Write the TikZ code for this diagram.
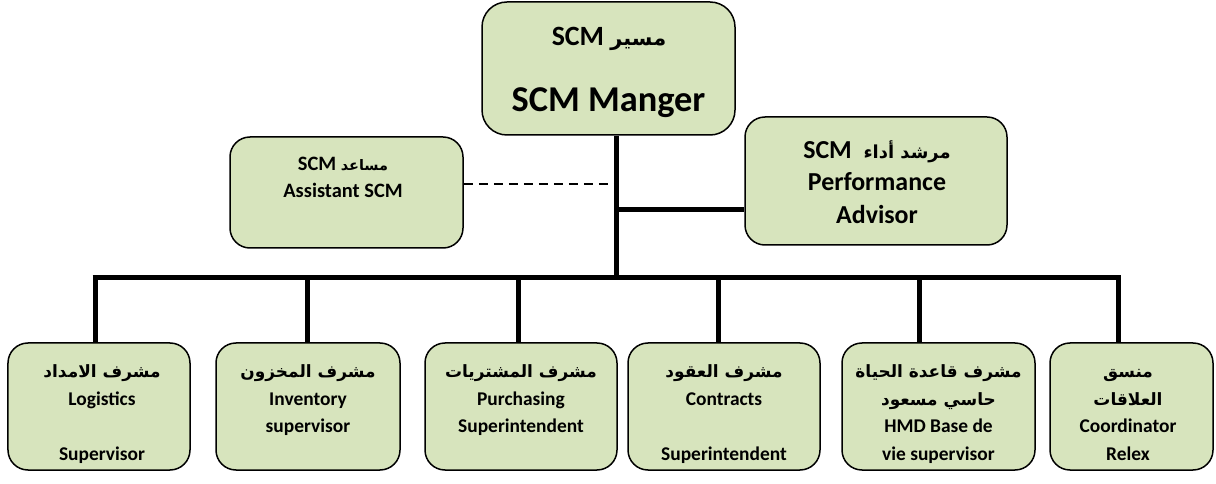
\documentclass[tikz,border=0pt]{standalone}
\usepackage{fontspec}
\setmainfont{Carlito}
\newfontfamily\arabicfont[Script=Arabic]{DejaVu Sans}
\TeXXeTstate=1
% Arabic words at a given size (direction is set around each line)
\newcommand\arw[2]{{\arabicfont\fontsize{#1}{#1}\selectfont #2}}
\definecolor{cardgreen}{HTML}{D7E4BD}

\begin{document}
\begin{tikzpicture}[x=1bp,y=-1bp,
  card/.style={draw=black, line width=1.5bp, fill=cardgreen,
    rounded corners=20bp, inner sep=0pt},
  cardtext/.style={inner sep=0pt, align=center, anchor=north},
  bottomtext/.style={cardtext, font=\bfseries\fontsize{19.5}{28}\selectfont},
  link/.style={line width=5bp},
  dottedlink/.style={line width=2.2bp, dash pattern=on 9bp off 6bp}]

\useasboundingbox (0,0) rectangle (1216,484);

% ---- boxes ----
\node[card, minimum width=253bp, minimum height=133bp, rounded corners=25bp] (mgr) at (608.5,68.5) {};
\node[card, minimum width=233bp, minimum height=111bp] (asst) at (346.5,192.5) {};
\node[card, minimum width=262bp, minimum height=128bp] (perf) at (876,181) {};

\foreach \n/\cx/\w in {b1/99/182, b2/308/184, b3/521/192, b4/724/192, b5/938.5/193, b6/1131.5/163}
  \node[card, minimum width=\w bp, minimum height=127bp] (\n) at (\cx,406.5) {};

% ---- connectors ----
\coordinate (trunk) at (616,278);
\coordinate (dj) at (616,184);
\coordinate (pj) at (616,210);
\draw[link] (mgr.south -| trunk) -- (trunk);
\draw[link] (pj) -- (pj -| perf.west);
\draw[dottedlink] (dj -| asst.east) -- (dj);

\coordinate (busL) at (95,278);
\coordinate (busR) at (1118,278);
\draw[link] ([xshift=-2.5bp]busL) -- ([xshift=2.5bp]busR);
\foreach \n/\dx in {b1/95, b2/307, b3/518, b4/718, b5/919, b6/1118}
  \draw[link] (\dx,278) -- (\dx,278 |- \n.north);

% ---- texts ----
\node[cardtext, anchor=base, font=\bfseries\fontsize{28}{34}\selectfont] (mgrA) at (609,46)
  {\beginR\arw{21}{مسير} \beginL SCM\endL\endR};
\node[cardtext, anchor=base, font=\bfseries\fontsize{36.5}{40}\selectfont] (mgrB) at (608.5,112)
  {SCM Manger};

\node[cardtext, font=\bfseries\fontsize{20.5}{27}\selectfont] (asstT) at (343,151.1)
  {\strut\beginR\arw{14.5}{مساعد} \beginL SCM\endL\endR\\ \strut Assistant SCM};

\node[cardtext, font=\bfseries\fontsize{26}{33}\selectfont] (perfT) at (877,134.9)
  {\strut\beginR\arw{18}{مرشد أداء}\ \ \beginL SCM\endL\endR\\ \strut Performance\\ \strut Advisor};

\node[bottomtext] (t1) at (102,357.4)
  {\strut\beginR\arw{17}{مشرف الامداد}\endR\\ \strut Logistics\\ \strut\\ \strut Supervisor};
\node[bottomtext] (t2) at (308,357.4)
  {\strut\beginR\arw{17}{مشرف المخزون}\endR\\ \strut Inventory\\ \strut supervisor};
\node[bottomtext] (t3) at (521,357.4)
  {\strut\beginR\arw{17}{مشرف المشتريات}\endR\\ \strut Purchasing\\ \strut Superintendent};
\node[bottomtext] (t4) at (724,357.4)
  {\strut\beginR\arw{17}{مشرف العقود}\endR\\ \strut Contracts\\ \strut\\ \strut Superintendent};
\node[bottomtext] (t5) at (938.5,357.4)
  {\strut\beginR\arw{17}{مشرف قاعدة الحياة}\endR\\ \strut\beginR\arw{17}{حاسي مسعود}\endR\\ \strut HMD Base de\\ \strut vie supervisor};
\node[bottomtext] (t6) at (1128,357.4)
  {\strut\beginR\arw{17}{منسق}\endR\\ \strut\beginR\arw{17}{العلاقات}\endR\\ \strut Coordinator\\ \strut Relex};
\end{tikzpicture}
\end{document}
